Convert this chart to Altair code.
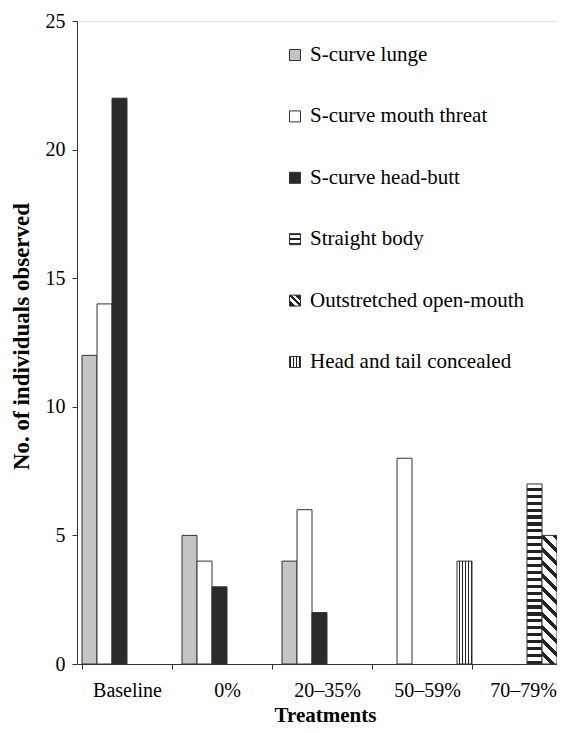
import altair as alt
import pandas as pd

categories = ["Baseline", "0%", "20–35%", "50–59%", "70–79%"]
series = ["S-curve lunge", "S-curve mouth threat", "S-curve head-butt",
          "Straight body", "Outstretched open-mouth", "Head and tail concealed"]
lunge = [12, 5, 4, 0, 0]
mouth_threat = [14, 4, 6, 8, 0]
head_butt = [22, 3, 2, 0, 0]
straight_body = [0, 0, 0, 0, 7]
outstretched = [0, 0, 0, 0, 5]
head_tail = [0, 0, 0, 4, 0]
y_ticks = [0, 5, 10, 15, 20, 25]

values_by_series = [lunge, mouth_threat, head_butt, straight_body, outstretched, head_tail]
rows = []
for s, vals in zip(series, values_by_series):
    for c, v in zip(categories, vals):
        if v > 0:
            rows.append({"category": c, "series": s, "value": v})
df = pd.DataFrame(rows)
legend_df = pd.DataFrame({"series": series})

FONT = "'Liberation Serif', 'Times New Roman', Times, 'DejaVu Serif', serif"
DARK = "#222222"
EDGE = "#333333"
plain = series[:3]
plain_colors = ["#c4c4c4", "#ffffff", "#2a2a2a"]


def stripes(n, dark_frac, x1, y1, x2, y2):
    stops = []
    for i in range(n):
        a = round(i / n, 4)
        b = round((i + 1 - dark_frac) / n, 4)
        c = round((i + 1) / n, 4)
        stops += [{"offset": a, "color": "#ffffff"}, {"offset": b, "color": "#ffffff"},
                  {"offset": b, "color": DARK}, {"offset": c, "color": DARK}]
    return {"gradient": "linear", "x1": x1, "y1": y1, "x2": x2, "y2": y2, "stops": stops}


def bands(pattern, x1, y1, x2, y2):
    stops = []
    for a, b, col in pattern:
        stops += [{"offset": a, "color": col}, {"offset": b, "color": col}]
    return {"gradient": "linear", "x1": x1, "y1": y1, "x2": x2, "y2": y2, "stops": stops}


# diagonal "\" stripes on a 15 x ~129 px bar
w, h = 15.0, 128.6
dx = w * (w + h) / (w * w + h * h)
dy = -h * (w + h) / (w * w + h * h)
fill_straight = stripes(26, 0.45, 0, 0, 0, 1)
fill_outstretched = stripes(11, 0.38, 0, 1, round(dx, 4), round(1 + dy, 4))
fill_headtail = stripes(5, 0.4, 0, 0, 1, 0)

W, B = "#ffffff", DARK
leg_straight = bands([(0, .15, B), (.15, .4, W), (.4, .6, B), (.6, .85, W), (.85, 1, B)], 0, 0, 0, 1)
leg_outstretched = bands([(0, .3, B), (.3, .45, W), (.45, .6, B), (.6, .75, W), (.75, 1, B)], 0, 1, 1, 0)
leg_headtail = bands([(0, .15, B), (.15, .33, W), (.33, .45, B), (.45, .55, W), (.55, .67, B),
                      (.67, .85, W), (.85, 1, B)], 0, 0, 1, 0)

x_enc = alt.X("category:N", sort=categories,
              scale=alt.Scale(domain=categories, range=[0, 500], paddingInner=0.1, paddingOuter=0.05),
              axis=alt.Axis(title="Treatments", tickBand="extent", labelAngle=0, labelFont=FONT,
                            labelFontSize=20, labelColor="#000", labelPadding=11, tickSize=5,
                            labelOffset={"condition": {"test": "datum.value == '70–79%'", "value": -4},
                                         "value": 0},
                            tickColor=EDGE, domainColor=EDGE, titleFont=FONT, titleFontSize=21,
                            titleFontWeight="bold", titleColor="#000", titlePadding=4,
                            titleX=248))
xo_enc = alt.XOffset("series:N", scale=alt.Scale(domain=series, paddingInner=0, paddingOuter=0))
y_enc = alt.Y("value:Q", scale=alt.Scale(domain=[0, 25], nice=False),
              axis=alt.Axis(values=y_ticks, title="No. of individuals observed", grid=False,
                            labelFont=FONT, labelFontSize=20, labelColor="#000", labelPadding=7,
                            tickSize=5, tickColor=EDGE, domainColor=EDGE, titleFont=FONT,
                            titleFontSize=23, titleFontWeight="bold", titleColor="#000",
                            titlePadding=12, titleY=315))

base = alt.Chart(df)
plain_bars = base.mark_bar(stroke=EDGE, strokeWidth=1).encode(
    x=x_enc, xOffset=xo_enc, y=y_enc,
    fill=alt.Fill("series:N", scale=alt.Scale(domain=plain, range=plain_colors), legend=None),
).transform_filter(alt.FieldOneOfPredicate(field="series", oneOf=plain))


def pattern_bar(name, fill):
    return base.mark_bar(stroke=EDGE, strokeWidth=1, fill=fill).encode(
        x=x_enc, xOffset=xo_enc, y=y_enc
    ).transform_filter(alt.datum.series == name)


bars = alt.layer(plain_bars,
                 pattern_bar(series[3], fill_straight),
                 pattern_bar(series[4], fill_outstretched),
                 pattern_bar(series[5], fill_headtail))

ly = alt.Y("series:N", scale=alt.Scale(type="point", domain=series, range=[34, 341], padding=0),
           axis=None)
lbase = alt.Chart(legend_df)
leg_text = lbase.mark_text(align="left", baseline="middle", font=FONT, fontSize=21,
                           color="#000").encode(x=alt.value(233), y=ly, text="series:N")
leg_plain = lbase.mark_square(size=121, stroke=EDGE, strokeWidth=1, opacity=1).encode(
    x=alt.value(218), y=ly,
    fill=alt.Fill("series:N", scale=alt.Scale(domain=plain, range=plain_colors), legend=None),
).transform_filter(alt.FieldOneOfPredicate(field="series", oneOf=plain))


def leg_pattern(name, fill):
    return lbase.mark_square(size=121, stroke=EDGE, strokeWidth=1, fill=fill, opacity=1).encode(
        x=alt.value(218), y=ly).transform_filter(alt.datum.series == name)


legend = alt.layer(leg_plain,
                   leg_pattern(series[3], leg_straight),
                   leg_pattern(series[4], leg_outstretched),
                   leg_pattern(series[5], leg_headtail),
                   leg_text)

chart = alt.layer(bars, legend).resolve_scale(y="independent").properties(
    width=480, height=643,
    autosize=alt.AutoSizeParams(type="none"),
    padding={"left": 69, "top": 13, "right": 0, "bottom": 68},
).configure_view(stroke=None).configure(background="#ffffff")

chart.save("out.html", embed_options={"renderer": "svg", "actions": False})
